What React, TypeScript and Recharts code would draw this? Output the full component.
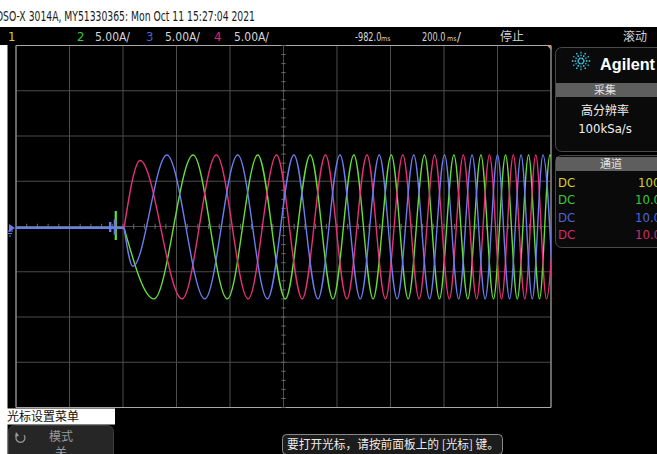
import React from 'react';
import { LineChart, Line, XAxis, YAxis, CartesianGrid, ReferenceLine, ReferenceArea } from 'recharts';

// time axis in ms (200 ms/div, delay -982 ms), current in A (5 A/div)
const timeDomain = [-1982, 18];
const gridTimes = [-1982, -1782, -1582, -1382, -1182, -982, -782, -582, -382, -182, 18];
const gridAmps = [-20, -15, -10, -5, 0, 5, 10, 15, 20];

// flat trace before the drive starts
const bluePreTimes = [-1982, -1630, -1630, -1630, -1630, -1612, -1612, -1612, -1612, -1578];
const bluePreAmps = [-0.15, -0.15, 0.5, -0.6, -0.15, -0.15, 0.8, -0.9, -0.15, -0.15];
const greenPreTimes = [-1982, -1609, -1609, -1609, -1609, -1578];
const greenPreAmps = [-0.15, -0.15, 1.7, -1.5, -0.15, -0.15];

// peaks / troughs of each phase
const redTimes = [-1578, -1518, -1361, -1233, -1114, -1008, -912, -825, -745, -670, -601, -536, -475, -417, -362, -310, -260, -212, -167, -123, -80, -39, 1, 40];
const redAmps = [-0.15, 7.3, -8, 7.9, -8, 7.9, -8, 7.9, -8, 7.9, -8, 7.9, -8, 7.9, -8, 7.9, -8, 7.9, -8, 7.9, -8, 7.9, -8, 7.9];
const greenTimes = [-1578, -1466, -1320, -1192, -1078, -975, -882, -797, -719, -647, -579, -516, -455, -399, -345, -293, -244, -197, -152, -108, -66, -25, 14, 53];
const greenAmps = [-0.15, -8, 7.9, -8, 7.9, -8, 7.9, -8, 7.9, -8, 7.9, -8, 7.9, -8, 7.9, -8, 7.9, -8, 7.9, -8, 7.9, -8, 7.9, -8];
const blueTimes = [-1578, -1545, -1418, -1276, -1153, -1042, -943, -853, -771, -695, -624, -557, -495, -436, -380, -327, -277, -228, -182, -137, -94, -52, -12, 27];
const blueAmps = [-0.15, -4.4, 7.9, -8, 7.9, -8, 7.9, -8, 7.9, -8, 7.9, -8, 7.9, -8, 7.9, -8, 7.9, -8, 7.9, -8, 7.9, -8, 7.9, -8];

const channelScales = ['5.00A/', '5.00A/', '5.00A/'];
const probeRatios = ['100 : 1', '10.0 : 1', '10.0 : 1', '10.0 : 1'];

const RED = '#e6307a';
const GREEN = '#66dd3a';
const BLUE = '#6b7dee';
const YELLOW = '#d2d22a';

const toPoints = (times: number[], amps: number[]) => times.map((t, i) => ({ t, v: amps[i] }));

// minor tick marks on the centre axes (5 per division)
const minorTimes: number[] = [];
for (let t = -1982; t <= 18; t += 40) minorTimes.push(t);
const minorAmps: number[] = [];
for (let a = -20; a <= 20; a += 1) minorAmps.push(a);

const scopeFont = '"DejaVu Sans Condensed", "Liberation Sans Narrow", "Liberation Sans", sans-serif';
const cjkFont = '"Noto Sans CJK SC", sans-serif';

function Chrome() {
  const star = [];
  for (let i = 0; i < 12; i++) {
    const a = (i * Math.PI) / 6;
    star.push(
      <line key={i} x1={581 + Math.cos(a) * 2} y1={61 + Math.sin(a) * 2} x2={581 + Math.cos(a) * 10} y2={61 + Math.sin(a) * 10}
        stroke={i % 2 ? '#2aa8c8' : '#4fd0e8'} strokeWidth={1.4} strokeDasharray="1.6 1.2" />
    );
  }
  return (
    <svg width={657} height={454} style={{ position: 'absolute', left: 0, top: 0 }}>
      <rect x={0} y={0} width={657} height={454} fill="#000" />
      {/* white page around screenshot */}
      <rect x={0} y={0} width={657} height={27} fill="#fff" />
      <rect x={0} y={45} width={7.5} height={409} fill="#fff" />
      <rect x={0} y={408.5} width={115} height={16} fill="#fff" />
      <text x={-4} y={21} fontFamily={scopeFont} fontSize={14} fill="#1a1a1a" textLength={259} lengthAdjust="spacingAndGlyphs">
        DSO-X 3014A, MY51330365: Mon Oct 11 15:27:04 2021
      </text>

      {/* status bar */}
      <g fontFamily={scopeFont} fontSize={13}>
        <text x={8} y={41} fill={YELLOW}>1</text>
        <text x={77} y={41} fill="#3cc83c">2</text>
        <text x={95} y={41} fill="#d6d6d6" textLength={35} lengthAdjust="spacingAndGlyphs">{channelScales[0]}</text>
        <text x={146} y={41} fill="#4a5fd6">3</text>
        <text x={165} y={41} fill="#d6d6d6" textLength={35} lengthAdjust="spacingAndGlyphs">{channelScales[1]}</text>
        <text x={214} y={41} fill="#e0287a">4</text>
        <text x={234} y={41} fill="#d6d6d6" textLength={35} lengthAdjust="spacingAndGlyphs">{channelScales[2]}</text>
        <text transform="translate(355 41) scale(0.7 1)" x={0} y={0} fill="#d6d6d6">-982.0</text>
        <text x={381} y={41} fill="#d6d6d6" fontSize={7}>ms</text>
        <text transform="translate(422 41) scale(0.7 1)" x={0} y={0} fill="#d6d6d6">200.0</text>
        <text x={447} y={41} fill="#d6d6d6" fontSize={7}>ms</text>
        <text x={457} y={41} fill="#d6d6d6">/</text>
      </g>
      <text x={500} y={41} fontFamily={cjkFont} fontSize={12} fill="#d0d0d0">停止</text>
      <text x={623} y={41} fontFamily={cjkFont} fontSize={12} fill="#d0d0d0">滚动</text>

      {/* trigger marker */}
      <polygon points="547.5,46 551.5,46 551.5,50.5" fill="#f0902a" />

      {/* ground reference marker */}
      <polygon points="9,224 15,228 9,232" fill={BLUE} />
      <line x1={7} y1={231} x2={13} y2={231} stroke={BLUE} strokeWidth={1} />
      <line x1={8} y1={233.5} x2={12} y2={233.5} stroke={BLUE} strokeWidth={1} />
      <line x1={9} y1={236} x2={11} y2={236} stroke={BLUE} strokeWidth={1} />

      {/* right side panels */}
      <rect x={555.5} y={47.5} width={112} height={104} rx={6} fill="#0a0a0a" stroke="#4a4a4a" />
      {star}
      <text x={600} y={70} fontFamily='"Liberation Sans", Arial, sans-serif' fontWeight="bold" fontSize={17} fill="#fff" textLength={55} lengthAdjust="spacingAndGlyphs">Agilent</text>
      <rect x={556} y={83} width={111} height={14} fill="#5e5e5e" />
      <text x={605} y={94} textAnchor="middle" fontFamily={cjkFont} fontSize={11} fill="#e4e4e4">采集</text>
      <text x={605} y={115} textAnchor="middle" fontFamily={cjkFont} fontSize={12} fill="#f0f0f0">高分辨率</text>
      <text x={605} y={133} textAnchor="middle" fontFamily={scopeFont} fontSize={13} fill="#f0f0f0">100kSa/s</text>

      <rect x={555.5} y={155.5} width={112} height={92} rx={6} fill="#0a0a0a" stroke="#4a4a4a" />
      <rect x={556} y={157} width={111} height={14} fill="#5e5e5e" />
      <text x={611} y={168} textAnchor="middle" fontFamily={cjkFont} fontSize={11} fill="#e4e4e4">通道</text>
      {[YELLOW, '#3cc83c', '#5064d8', '#d02a6a'].map((c, i) => (
        <g key={c} fontFamily={scopeFont} fontSize={13} fill={c}>
          <text x={558} y={187 + i * 17.3}>DC</text>
          <text x={i === 0 ? 638 : 635} y={187 + i * 17.3}>{probeRatios[i]}</text>
        </g>
      ))}

      {/* bottom menu */}
      <text x={7} y={421} fontFamily={cjkFont} fontSize={12} fill="#111">光标设置菜单</text>
      <rect x={8.5} y={425.5} width={105} height={40} rx={6} fill="#262626" stroke="#3c3c3c" />
      <path d="M 18 434 A 4.5 4.5 0 1 0 24 435" fill="none" stroke="#9a9a9a" strokeWidth={1.2} />
      <polygon points="16,432 19,436 15,436.5" fill="#9a9a9a" />
      <text x={49} y={441} fontFamily={cjkFont} fontSize={12} fill="#9a9a9a">模式</text>
      <text x={55} y={457} fontFamily={cjkFont} fontSize={12} fill="#9a9a9a">关</text>

      <rect x={282.5} y={434.5} width={220} height={20} rx={4} fill="#1c1c1c" stroke="#8a8a8a" />
      <text x={287} y={449} fontFamily={cjkFont} fontSize={12} fill="#ececec" textLength={212} lengthAdjust="spacingAndGlyphs">要打开光标，请按前面板上的 [光标] 键。</text>
    </svg>
  );
}

export default function App() {
  return (
    <div style={{ position: 'absolute', left: 0, top: 0, width: 657, height: 454, overflow: 'hidden', background: '#000' }}>
      <Chrome />
      <div style={{ position: 'absolute', left: 0, top: 0 }}>
        <LineChart width={657} height={454} margin={{ top: 45.5, right: 106, bottom: 46.5, left: 16 }}>
          <XAxis type="number" dataKey="t" domain={timeDomain} ticks={gridTimes} allowDataOverflow hide />
          <YAxis type="number" domain={[-20, 20]} ticks={gridAmps} allowDataOverflow hide />
          <CartesianGrid stroke="#4c4c4c" />
          {minorTimes.map(t => (
            <ReferenceLine key={'mt' + t} segment={[{ x: t, y: -0.3 }, { x: t, y: 0.3 }]} stroke="#6a6a6a" />
          ))}
          {minorAmps.map(a => (
            <ReferenceLine key={'ma' + a} segment={[{ x: -990, y: a }, { x: -974, y: a }]} stroke="#6a6a6a" />
          ))}
          <ReferenceArea x1={-1982} x2={18} y1={-20} y2={20} fill="none" fillOpacity={0} stroke="#a8a8a8" />
          <Line data={toPoints(greenPreTimes, greenPreAmps)} dataKey="v" type="linear" stroke={GREEN} strokeWidth={2.2} dot={false} activeDot={false} isAnimationActive={false} />
          <Line data={toPoints(greenTimes, greenAmps)} dataKey="v" type="monotoneX" stroke={GREEN} strokeWidth={1.4} dot={false} activeDot={false} isAnimationActive={false} />
          <Line data={toPoints(redTimes, redAmps)} dataKey="v" type="monotoneX" stroke={RED} strokeWidth={1.4} dot={false} activeDot={false} isAnimationActive={false} />
          <Line data={toPoints(blueTimes, blueAmps)} dataKey="v" type="monotoneX" stroke={BLUE} strokeWidth={1.4} dot={false} activeDot={false} isAnimationActive={false} />
          <Line data={toPoints(bluePreTimes, bluePreAmps)} dataKey="v" type="linear" stroke={BLUE} strokeWidth={2.4} dot={false} activeDot={false} isAnimationActive={false} />
        </LineChart>
      </div>
    </div>
  );
}
